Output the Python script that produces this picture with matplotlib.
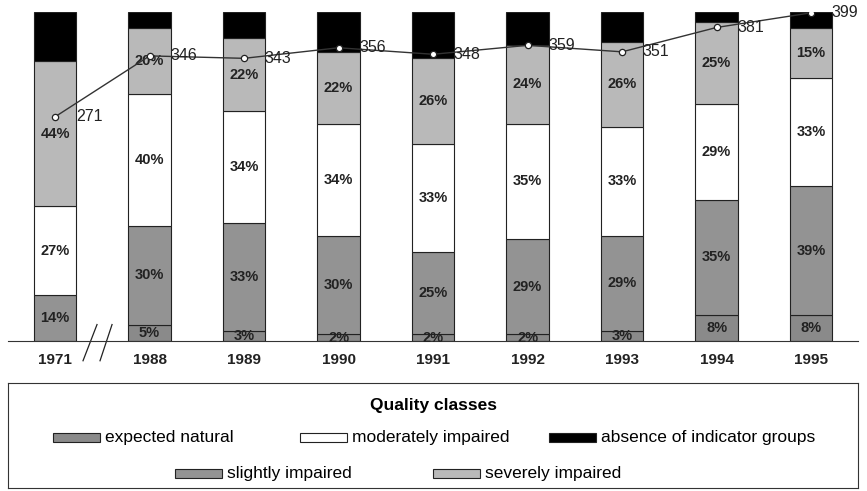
import matplotlib.pyplot as plt
from matplotlib.patches import Rectangle
import numpy as np

plt.rcParams['font.family'] = ['Liberation Sans', 'DejaVu Sans']

years = ["1971", "1988", "1989", "1990", "1991", "1992", "1993", "1994", "1995"]
expected_natural = [0, 5, 3, 2, 2, 2, 3, 8, 8]
slightly_impaired = [14, 30, 33, 30, 25, 29, 29, 35, 39]
moderately_impaired = [27, 40, 34, 34, 33, 35, 33, 29, 33]
severely_impaired = [44, 20, 22, 22, 26, 24, 26, 25, 15]
absence = [15, 5, 8, 12, 14, 10, 9, 3, 5]
n_sites = [271, 346, 343, 356, 348, 359, 351, 381, 399]

series = [
    ("expected natural", expected_natural, "#8a8a8a"),
    ("slightly impaired", slightly_impaired, "#939393"),
    ("moderately impaired", moderately_impaired, "#ffffff"),
    ("severely impaired", severely_impaired, "#b9b9b9"),
    ("absence of indicator groups", absence, "#000000"),
]

fig = plt.figure(figsize=(8.67, 4.91), dpi=100)
ax = fig.add_axes([0.009, 0.3055, 0.981, 0.67])
x = np.arange(len(years))
bottom = np.zeros(len(years))
for name, vals, col in series:
    vals = np.array(vals, dtype=float)
    ax.bar(x, vals, 0.45, bottom=bottom, color=col, edgecolor="#222222", linewidth=0.8)
    if name != "absence of indicator groups":
        for xi, b, v in zip(x, bottom, vals):
            if v > 0:
                ax.text(xi, b + v / 2, f"{int(v)}%", ha="center", va="center",
                        fontsize=10.5, fontweight="bold", color="#222222")
    bottom += vals

ax.set_xlim(-0.5, 8.5)
ax.set_ylim(0, 100)
for s in ["top", "right", "left"]:
    ax.spines[s].set_visible(False)
ax.spines["bottom"].set_color("#333333")
ax.set_yticks([])
ax.set_xticks(x)
ax.set_xticklabels(years, fontsize=11, fontweight="bold", color="#222222")
ax.tick_params(axis="x", length=0, pad=9)

# axis break marks between 1971 and 1988
ax.plot([0.444, 0.296], [5, -6], color="#222222", lw=0.9, clip_on=False)
ax.plot([0.603, 0.476], [5, -6], color="#222222", lw=0.9, clip_on=False)

ax2 = ax.twinx()
ax2.set_ylim(-5, 400)
ax2.axis("off")
ax2.plot(x, n_sites, color="#333333", lw=1, marker="o", ms=4.5,
         markerfacecolor="white", markeredgecolor="#222222", markeredgewidth=0.9)
for xi, v in zip(x, n_sites):
    ax2.annotate(str(v), (xi, v), xytext=(15, 0), textcoords="offset points",
                 ha="left", va="center", fontsize=11.5, color="#222222")

# legend box
lax = fig.add_axes([0.009, 0.006, 0.981, 0.214])
lax.set_xlim(0, 850)
lax.set_ylim(105, 0)
lax.set_xticks([])
lax.set_yticks([])
for s in lax.spines.values():
    s.set_color("#333333")
lax.text(425, 23, "Quality classes", ha="center", va="center", fontsize=12.5, fontweight="bold")
items = [
    (45, 54, "expected natural", "#8a8a8a"),
    (292, 54, "moderately impaired", "#ffffff"),
    (541, 54, "absence of indicator groups", "#000000"),
    (167, 90, "slightly impaired", "#939393"),
    (425, 90, "severely impaired", "#b9b9b9"),
]
for px, py, label, col in items:
    lax.add_patch(Rectangle((px, py - 4.5), 47, 9, facecolor=col, edgecolor="#222222", lw=0.8))
    lax.text(px + 52, py, label, ha="left", va="center", fontsize=12.5)

fig.savefig("out.png", dpi=100)
